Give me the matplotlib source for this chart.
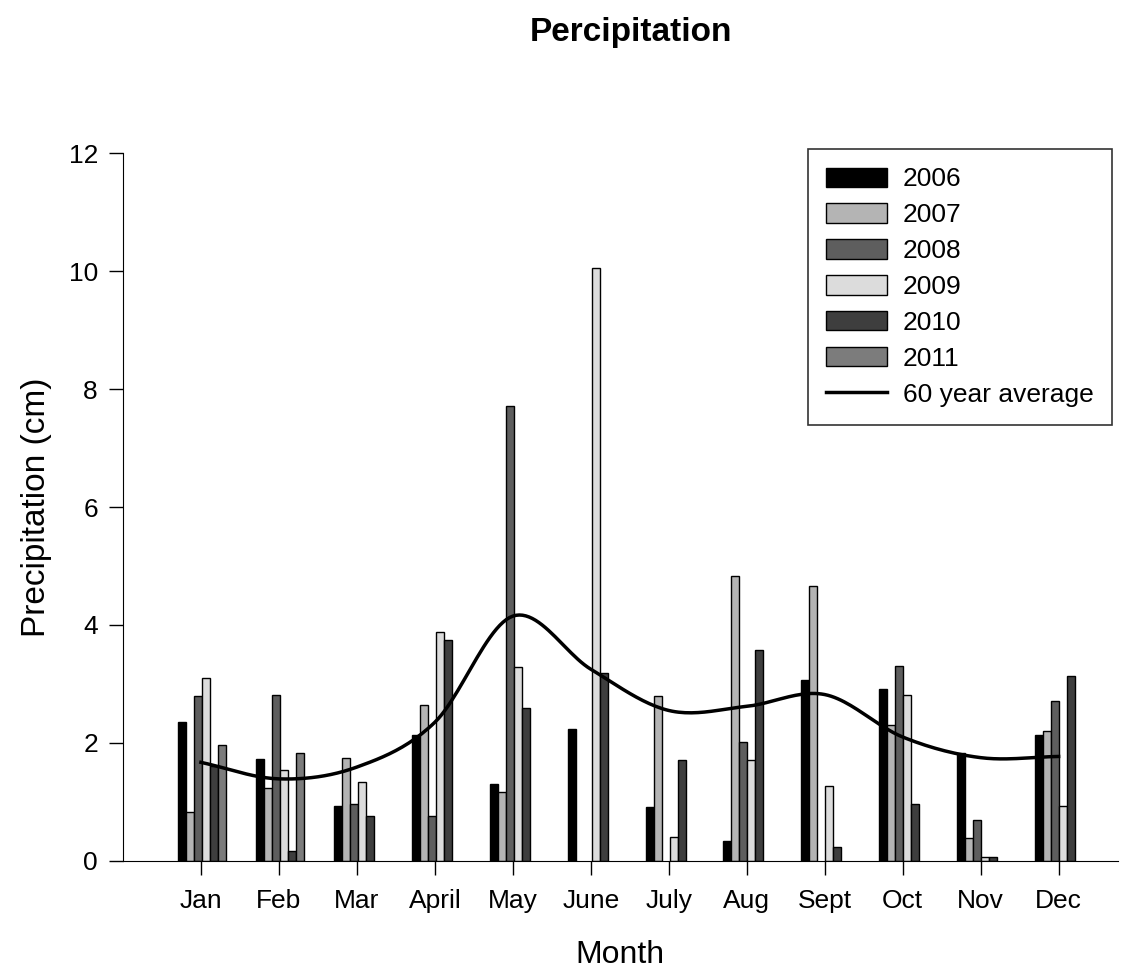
import numpy as np
import matplotlib.pyplot as plt
from matplotlib.patches import Patch
from matplotlib.lines import Line2D

plt.rcParams['font.family'] = ['Liberation Sans', 'DejaVu Sans']

months = ['Jan', 'Feb', 'Mar', 'April', 'May', 'June', 'July', 'Aug', 'Sept', 'Oct', 'Nov', 'Dec']
years = ['2006', '2007', '2008', '2009', '2010', '2011']

# 0 = no bar drawn for that month
p2006 = [2.35, 1.72, 0.93, 2.14, 1.30, 2.23, 0.92, 0.34, 3.06, 2.92, 1.83, 2.14]
p2007 = [0.82, 1.24, 1.75, 2.64, 1.17, 0.00, 2.80, 4.83, 4.66, 2.30, 0.38, 2.20]
p2008 = [2.79, 2.81, 0.96, 0.76, 7.71, 0.00, 0.00, 2.02, 0.00, 3.30, 0.69, 2.71]
p2009 = [3.10, 1.54, 1.34, 3.88, 3.28, 10.05, 0.40, 1.71, 1.27, 2.81, 0.06, 0.93]
p2010 = [1.60, 0.17, 0.76, 3.75, 2.60, 3.18, 1.71, 3.57, 0.24, 0.96, 0.07, 3.14]
p2011 = [1.96, 1.83, 0.00, 0.00, 0.00, 0.00, 0.00, 0.00, 0.00, 0.00, 0.00, 0.00]
avg60 = [1.67, 1.39, 1.59, 2.35, 4.15, 3.25, 2.55, 2.62, 2.82, 2.10, 1.75, 1.77]

colors = ['#000000', '#b4b4b4', '#5e5e5e', '#dcdcdc', '#3e3e3e', '#7c7c7c']


def smooth(xs, ys, n=24):
    # catmull-rom through the monthly points, just for drawing
    xs = np.asarray(xs, float)
    ys = np.asarray(ys, float)
    px = np.concatenate([[2 * xs[0] - xs[1]], xs, [2 * xs[-1] - xs[-2]]])
    py = np.concatenate([[2 * ys[0] - ys[1]], ys, [2 * ys[-1] - ys[-2]]])
    outx, outy = [], []
    t = np.linspace(0, 1, n, endpoint=False)
    for i in range(1, len(px) - 2):
        for arr, out in ((px, outx), (py, outy)):
            p0, p1, p2, p3 = arr[i - 1], arr[i], arr[i + 1], arr[i + 2]
            out.extend(0.5 * (2 * p1 + (-p0 + p2) * t + (2 * p0 - 5 * p1 + 4 * p2 - p3) * t ** 2
                              + (-p0 + 3 * p1 - 3 * p2 + p3) * t ** 3))
    outx.append(xs[-1])
    outy.append(ys[-1])
    return np.array(outx), np.array(outy)


fig = plt.figure(figsize=(11.28, 9.76), dpi=100)
ax = fig.add_axes([0.109, 0.118, 0.882, 0.725])

x = np.arange(len(months))
w = 0.1026
series = [p2006, p2007, p2008, p2009, p2010, p2011]
for i, vals in enumerate(series):
    h = np.array(vals, float)
    h[h == 0] = np.nan
    ax.bar(x + (i - 2.5) * w + 0.01, h, width=w, color=colors[i],
           edgecolor='black', linewidth=1.0, zorder=2)

sx, sy = smooth(x, avg60)
ax.plot(sx, sy, color='black', linewidth=2.5, zorder=3)

ax.set_xlim(-1.0, 11.76)
ax.set_ylim(0, 12)
ax.set_yticks(range(0, 13, 2))
ax.set_xticks(x)
ax.set_xticklabels(months)
ax.spines['top'].set_visible(False)
ax.spines['right'].set_visible(False)
ax.tick_params(axis='both', direction='out', length=10, width=1, labelsize=19, pad=10)
ax.tick_params(axis='y', pad=8)
ax.set_ylabel('Precipitation (cm)', fontsize=24, labelpad=12)
ax.set_xlabel('Month', fontsize=23, labelpad=20)
fig.text(0.559, 0.967, 'Percipitation', ha='center', va='center', fontsize=24, fontweight='bold')

handles = [Patch(facecolor=c, edgecolor='black', linewidth=1.0) for c in colors]
handles.append(Line2D([], [], color='black', linewidth=2.5))
leg = ax.legend(handles, years + ['60 year average'], loc='upper right',
                bbox_to_anchor=(0.994, 1.006), borderaxespad=0, fontsize=19, frameon=True,
                fancybox=False, edgecolor='black', handlelength=2.3, handleheight=0.75,
                labelspacing=0.45, borderpad=0.7, handletextpad=0.6)
leg.get_frame().set_linewidth(1.2)

fig.savefig('out.png', dpi=100)
